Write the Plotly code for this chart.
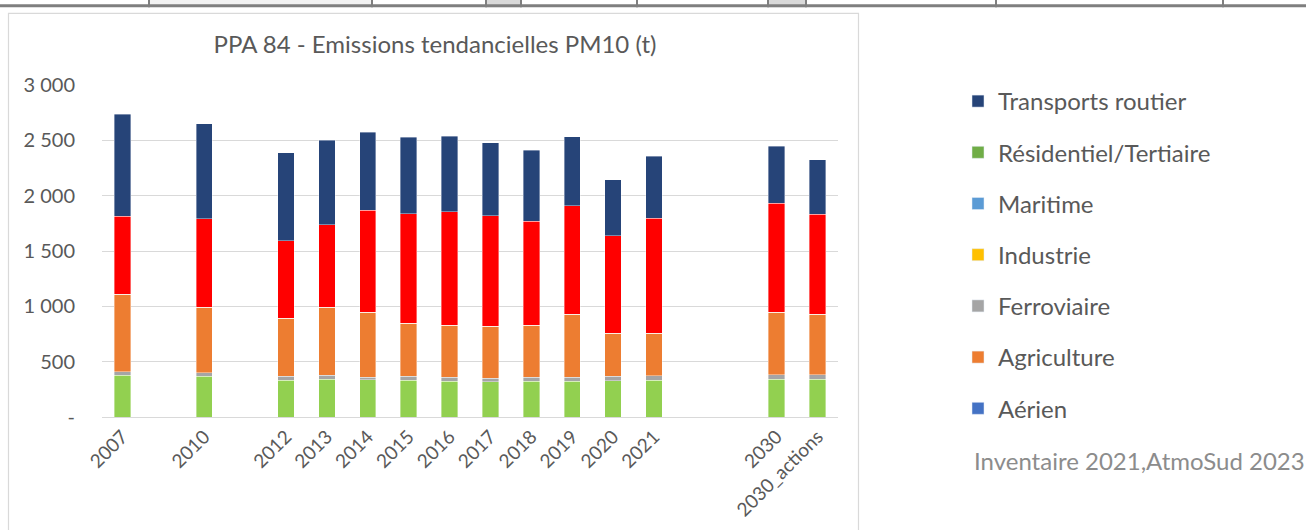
import plotly.graph_objects as go

W, H = 1306, 530

# ---------------- data ----------------
years = ["2007", "2010", "2012", "2013", "2014", "2015", "2016", "2017",
         "2018", "2019", "2020", "2021", "2030", "2030_actions"]
# category slots including empty gaps (as on the original axis)
slots = ["2007", " ", "2010", "  ", "2012", "2013", "2014", "2015", "2016",
         "2017", "2018", "2019", "2020", "2021", "   ", "    ", "2030",
         "2030_actions"]

industrie   = [377, 367, 331, 340, 337, 331, 325, 319, 325, 325, 328, 334, 340, 340]
ferroviaire = [33, 34, 36, 37, 21, 36, 33, 33, 33, 33, 39, 39, 40, 40]
agriculture = [698, 590, 525, 614, 588, 482, 470, 467, 470, 570, 389, 383, 566, 548]
residentiel = [705, 801, 701, 747, 921, 988, 1027, 1000, 943, 982, 883, 1042, 985, 906]
transports  = [921, 859, 796, 762, 705, 690, 684, 657, 639, 623, 503, 557, 515, 491]
maritime    = [0] * 14
aerien      = [0] * 14

ytick_vals = [0, 500, 1000, 1500, 2000, 2500, 3000]
ytick_text = ["-", "500", "1 000", "1 500", "2 000", "2 500", "3 000"]

legend_names = ["Transports routier", "Résidentiel/Tertiaire", "Maritime",
                "Industrie", "Ferroviaire", "Agriculture", "Aérien"]
legend_colors = ["#264478", "#70AD47", "#5B9BD5", "#FFC000", "#A5A5A5",
                 "#ED7D31", "#4472C4"]

title_text = "PPA 84 - Emissions tendancielles PM10 (t)"
source_text = "Inventaire 2021,AtmoSud 2023"

# ---------------- geometry ----------------
PL, PR, PT, PB = 102, 838, 84.7, 416.7   # plot area in pixels


def px_x(x):
    return (x - PL) / (PR - PL)


def px_y(y):
    return (PB - y) / (PB - PT)


FONT = "Lato"
TXT = "#595959"

fig = go.Figure()

stack = [
    ("Aérien", aerien, "#4472C4"),
    ("Industrie", industrie, "#92D050"),
    ("Ferroviaire", ferroviaire, "#A5A5A5"),
    ("Agriculture", agriculture, "#ED7D31"),
    ("Maritime", maritime, "#5B9BD5"),
    ("Résidentiel/Tertiaire", residentiel, "#FF0000"),
    ("Transports routier", transports, "#264478"),
]
for name, vals, col in stack:
    fig.add_trace(go.Bar(
        x=years, y=vals, name=name, marker_color=col,
        marker_line=dict(width=0.7, color="rgba(255,255,255,0.55)"),
        showlegend=False,
    ))

# legend entries (as displayed in the original)
for i, (n, c) in enumerate(zip(legend_names, legend_colors)):
    fig.add_trace(go.Bar(
        x=[None], y=[None], name=n, marker_color=c,
        legendgroup=f"g{i}", showlegend=True,
    ))

shapes = []
# chart frame
shapes.append(dict(type="rect", xref="paper", yref="paper",
                   x0=px_x(8.5), x1=px_x(858.5), y0=px_y(540), y1=px_y(13),
                   line=dict(color="#D9D9D9", width=1.2), fillcolor="rgba(0,0,0,0)",
                   layer="below"))
# spreadsheet strip at the top
for x0, x1, col in [(150, 371, "#F2F2F2"), (486, 521, "#D9D9D9"),
                    (768, 806, "#D9D9D9")]:
    shapes.append(dict(type="rect", xref="paper", yref="paper",
                       x0=px_x(x0), x1=px_x(x1), y0=px_y(7), y1=px_y(-2),
                       line=dict(width=0), fillcolor=col))
shapes.append(dict(type="rect", xref="paper", yref="paper",
                   x0=px_x(-2), x1=px_x(1310), y0=px_y(7), y1=px_y(4),
                   line=dict(width=0), fillcolor="#7F7F7F"))
for xs in [149, 372, 486, 521, 637, 768, 806, 996, 1223]:
    shapes.append(dict(type="line", xref="paper", yref="paper",
                       x0=px_x(xs), x1=px_x(xs), y0=px_y(7), y1=px_y(-2),
                       line=dict(color="#7F7F7F", width=2)))
fig.update_layout(shapes=shapes)

fig.add_annotation(text=source_text, xref="paper", yref="paper",
                   x=px_x(972), y=px_y(460), xanchor="left", yanchor="middle",
                   showarrow=False, font=dict(family=FONT, size=24, color="#8C8C8C"))

fig.update_layout(
    width=W, height=H,
    paper_bgcolor="white", plot_bgcolor="white",
    margin=dict(l=PL, r=W - PR, t=PT, b=H - PB, autoexpand=False),
    barmode="stack", bargap=0.6,
    title=dict(text=title_text, x=435 / W, xref="container", xanchor="center",
               y=1 - 45 / H, yref="container", yanchor="middle",
               font=dict(family=FONT, size=24, color=TXT)),
    xaxis=dict(type="category", categoryorder="array", categoryarray=slots,
               range=[-0.5, len(slots) - 0.5], tickangle=-45,
               tickfont=dict(family=FONT, size=19, color=TXT),
               showgrid=False, showline=True, linecolor="#D9D9D9", linewidth=1.2,
               ticks="", fixedrange=True),
    yaxis=dict(range=[0, 3000], tickvals=ytick_vals, ticktext=ytick_text,
               tickfont=dict(family=FONT, size=20, color=TXT),
               showgrid=True, gridcolor="#D9D9D9", gridwidth=1.2,
               zeroline=False, showline=False, ticks="", ticklabelstandoff=26),
    legend=dict(x=958 / W, xref="container", y=1 - 79 / H, yref="container",
                xanchor="left", yanchor="top", traceorder="grouped",
                tracegroupgap=17, font=dict(family=FONT, size=24, color=TXT),
                itemwidth=30, bgcolor="rgba(0,0,0,0)", maxheight=1.0),
    showlegend=True,
)

fig.write_html("out.html",
               config={"displayModeBar": False},
               post_script="document.body.style.margin='0px';"
                           "document.body.style.overflow='hidden';")
